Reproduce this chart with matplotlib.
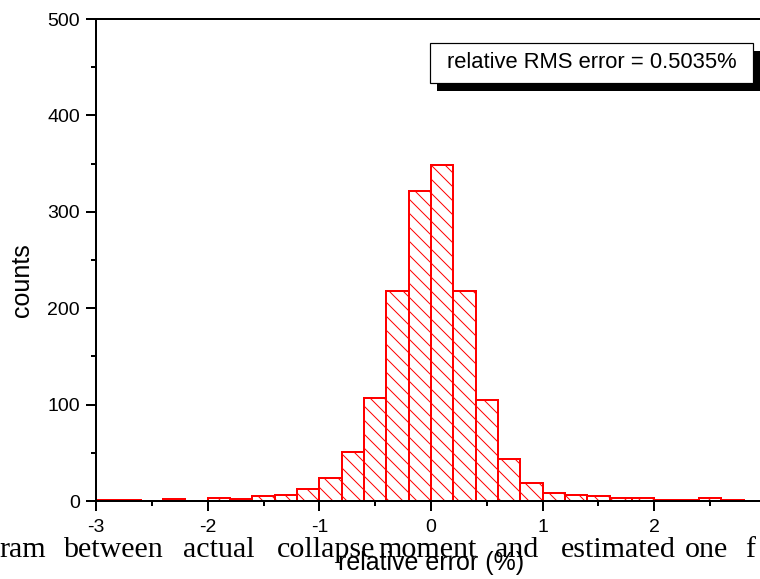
import numpy as np
import matplotlib
matplotlib.use("Agg")
import matplotlib.pyplot as plt
import matplotlib.patches as mpatches
from matplotlib.ticker import MultipleLocator, FixedLocator

# ── Data ──────────────────────────────────────────────────────────────────
bin_left = np.round(np.arange(-3.0, 2.8, 0.2), 2)
counts = [1, 1, 0, 2, 0, 3, 2, 5, 6, 12, 24, 51, 107, 218, 322,
          349, 218, 105, 44, 19, 8, 6, 5, 3, 3, 1, 1, 3, 1]
bin_width = 0.2
x_ticks = [-3, -2, -1, 0, 1, 2]
rms_text = "relative RMS error = 0.5035%"
caption_words = ["ram", "between", "actual", "collapse", "moment",
                 "and", "estimated", "one", "f"]

# ── Figure in pixel units ─────────────────────────────────────────────────
DPI = 84
W, H = 760, 579
PX = 72 / DPI  # one pixel in points

plt.rcParams["font.family"] = ["Liberation Sans", "DejaVu Sans"]
plt.rcParams["axes.unicode_minus"] = False
plt.rcParams["hatch.linewidth"] = 1.0 * PX

fig = plt.figure(figsize=(W / DPI, H / DPI), dpi=DPI)
ax = fig.add_axes([96 / W, 78 / H, 670 / W, 482 / H])

ax.bar(bin_left, counts, width=bin_width, align="edge",
       facecolor="white", edgecolor="red", hatch="\\\\",
       linewidth=2 * PX)

ax.set_xlim(-3, 3)
ax.set_ylim(0, 500)
ax.xaxis.set_major_locator(FixedLocator(x_ticks))
ax.xaxis.set_minor_locator(MultipleLocator(0.5))
ax.yaxis.set_major_locator(MultipleLocator(100))
ax.yaxis.set_minor_locator(MultipleLocator(50))
ax.tick_params(which="both", direction="out", width=2 * PX,
               labelsize=19.5 * PX, top=False, right=False)
ax.tick_params(which="major", length=10 * PX)
ax.tick_params(which="minor", length=5 * PX)
ax.tick_params(axis="x", which="major", pad=7.5 * PX)
ax.tick_params(axis="y", which="major", pad=6 * PX)
for s in ["left", "bottom", "top"]:
    ax.spines[s].set_linewidth(2 * PX)
ax.spines["right"].set_visible(False)

ax.set_xlabel("relative error (%)", fontsize=25 * PX, va="top")
ax.xaxis.set_label_coords(0.5, -0.104)
ax.set_ylabel("counts", fontsize=25 * PX)
ax.yaxis.set_label_coords(-0.092, 0.4585)

# ── RMS box with drop shadow (pixel coords -> figure fraction) ────────────
def box(x0, y0, x1, y1, **kw):
    return mpatches.Rectangle((x0 / W, 1 - y1 / H), (x1 - x0) / W, (y1 - y0) / H,
                              transform=fig.transFigure, clip_on=False, **kw)

fig.patches.append(box(437, 51, 762, 91, facecolor="black", edgecolor="none"))
fig.patches.append(box(430, 43, 753, 82.5, facecolor="white",
                       edgecolor="black", linewidth=1.2 * PX))
fig.text(591.5 / W, 1 - 63 / H, rms_text, fontsize=22 * PX,
         ha="center", va="center")

# ── Caption of the source document showing through at the bottom ──────────
word_x = [-1, 63, 183, 277, 378, 495, 561, 685, 745]
for word, x in zip(caption_words, word_x):
    fig.text(x / W, 1 - 557 / H, word, fontsize=30 * PX,
             family="Liberation Serif", ha="left", va="baseline", zorder=0)

fig.savefig("out.png", dpi=DPI)
